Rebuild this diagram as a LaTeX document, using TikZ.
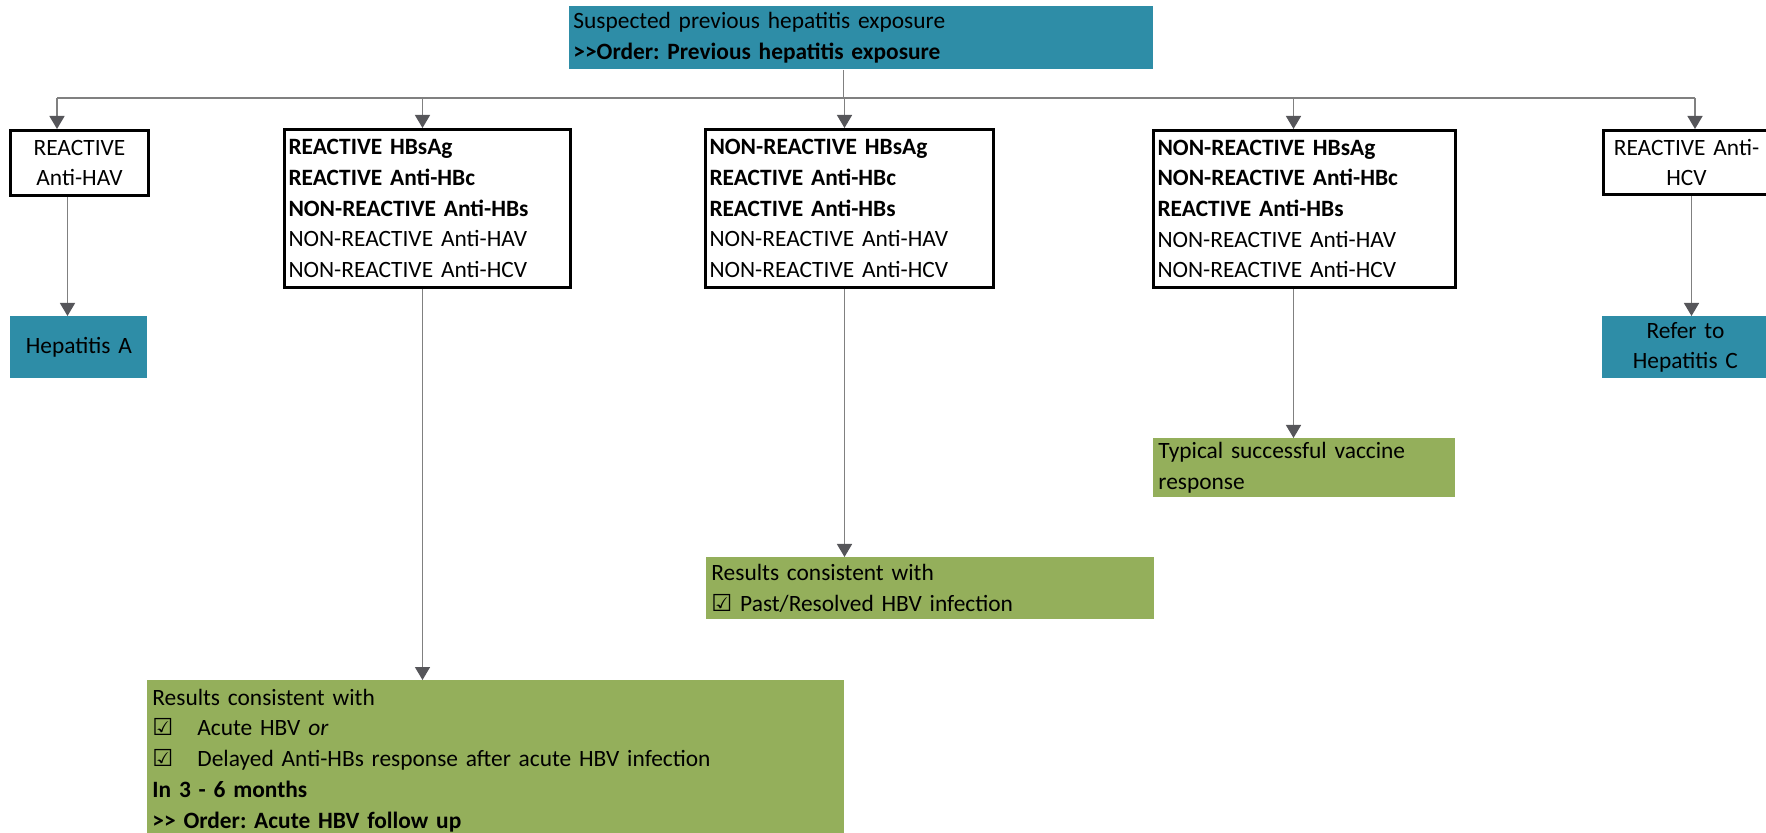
\documentclass[tikz,border=0pt]{standalone}
\usepackage{fontspec}
\setmainfont{Carlito}
\newfontfamily\symfont{DejaVu Sans}
\usetikzlibrary{arrows.meta}
\frenchspacing
\definecolor{hepteal}{HTML}{2E8DA7}
\definecolor{hepgreen}{HTML}{94AF5B}
\definecolor{connline}{HTML}{808080}
\definecolor{conntip}{HTML}{56565A}
\newcommand{\chk}{{\symfont\char"2611}}
\newcommand{\gtgt}{{>}{>}}
\tikzset{
  txt/.style={font={\fontsize{11.7pt}{15.35pt}\selectfont}, inner ysep=0pt, anchor=north west},
  whitebox/.style={txt, draw=black, line width=1.5pt},
  tealbox/.style={txt, fill=hepteal},
  greenbox/.style={txt, fill=hepgreen},
  conn/.style={draw=connline, line width=0.75pt},
  arr/.style={conn, -{Triangle[width=7.5pt,length=6.5pt,color=conntip]}},
}
\begin{document}
\begin{tikzpicture}[x=0.5pt,y=-0.5pt]
\useasboundingbox (0,0) rectangle (1766,833);

% top
\node[tealbox, align=left, inner xsep=2pt, text width=288pt, minimum height=31.5pt] (top) at (569,6)
  {Suspected previous hepatitis exposure\\\textbf{\gtgt Order: Previous hepatitis exposure}};

% row of test boxes
\node[whitebox, align=center, inner xsep=2pt, text width=65pt, minimum height=32.5pt] (b1) at (9,129)
  {REACTIVE\\Anti-HAV};
\node[whitebox, align=left, inner xsep=2pt, text width=139pt, minimum height=79pt] (b2) at (283,128)
  {\textbf{REACTIVE HBsAg}\\\textbf{REACTIVE Anti-HBc}\\\textbf{NON-REACTIVE Anti-HBs}\\NON-REACTIVE Anti-HAV\\NON-REACTIVE Anti-HCV};
\node[whitebox, align=left, inner xsep=2pt, text width=140pt, minimum height=79pt] (b3) at (704,128)
  {\textbf{NON-REACTIVE HBsAg}\\\textbf{REACTIVE Anti-HBc}\\\textbf{REACTIVE Anti-HBs}\\NON-REACTIVE Anti-HAV\\NON-REACTIVE Anti-HCV};
\node[whitebox, align=left, inner xsep=2pt, text width=147pt, minimum height=78.5pt] (b4) at (1152,129)
  {\textbf{NON-REACTIVE HBsAg}\\\textbf{NON-REACTIVE Anti-HBc}\\\textbf{REACTIVE Anti-HBs}\\NON-REACTIVE Anti-HAV\\NON-REACTIVE Anti-HCV};
\node[whitebox, align=center, inner xsep=2pt, text width=79pt, minimum height=32pt] (b5) at (1602,129)
  {REACTIVE Anti-\\HCV};

% outcomes
\node[tealbox, align=center, inner xsep=2pt, text width=64.5pt, minimum height=31pt] (hepA) at (10,316)
  {Hepatitis A};
\node[tealbox, align=center, inner xsep=2pt, text width=79pt, minimum height=31pt] (hepC) at (1602,316)
  {Refer to\\Hepatitis C};
\node[greenbox, align=left, inner xsep=2.5pt, text width=146pt, minimum height=29.5pt] (g4) at (1153,438)
  {Typical successful vaccine\\response};
\node[greenbox, align=left, inner xsep=2.5pt, text width=219pt, minimum height=31pt] (g3) at (706,557)
  {Results consistent with\\\chk{} Past/Resolved HBV infection};
\node[greenbox, align=left, inner xsep=2.5pt, text width=343.5pt, minimum height=80pt] (g2) at (147,680)
  {Results consistent with\\
   \makebox[22.5pt][l]{\chk}Acute HBV \emph{or}\\
   \makebox[22.5pt][l]{\chk}Delayed Anti-HBs response after acute HBV infection\\
   \textbf{In 3 - 6 months}\\
   \textbf{\gtgt{} Order: Acute HBV follow up}};

% bus
\coordinate (busL) at (57,98);
\coordinate (busR) at (1695,98);
\draw[conn] (busL) -- (busR);
\draw[conn] ([xshift=-9pt]top.south) -- ([xshift=-9pt]top.south |- busL);
\draw[arr] (busL) -- (busL |- b1.north);
\draw[arr] ([xshift=-2.5pt]b2.north |- busL) -- ([xshift=-2.5pt]b2.north);
\draw[arr] ([xshift=-2.5pt]b3.north |- busL) -- ([xshift=-2.5pt]b3.north);
\draw[arr] ([xshift=-5.5pt]b4.north |- busL) -- ([xshift=-5.5pt]b4.north);
\draw[arr] (busR) -- (busR |- b5.north);

% down arrows
\draw[arr] ([xshift=-6pt]b1.south) -- ([xshift=-6pt]b1.south |- hepA.north);
\draw[arr] ([xshift=-2.5pt]b2.south) -- ([xshift=-2.5pt]b2.south |- g2.north);
\draw[arr] ([xshift=-2.5pt]b3.south) -- ([xshift=-2.5pt]b3.south |- g3.north);
\draw[arr] ([xshift=-5.5pt]b4.south) -- ([xshift=-5.5pt]b4.south |- g4.north);
\draw[arr] ([xshift=2.5pt]b5.south) -- ([xshift=2.5pt]b5.south |- hepC.north);
\end{tikzpicture}
\end{document}
